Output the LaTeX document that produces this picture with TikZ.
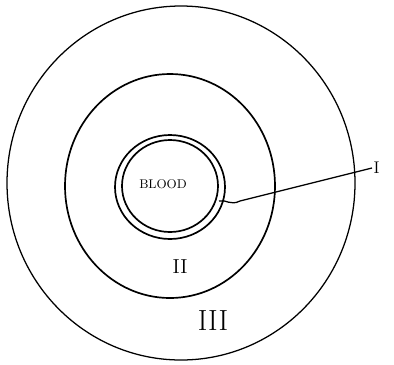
\documentclass[tikz,border=0pt]{standalone}
\usepackage{tikz}
\usetikzlibrary{positioning,calc}

\begin{document}
\begin{tikzpicture}[
    x=0.025cm, y=-0.025cm,
    every node/.style={font=\small},
    ring/.style={draw, line width=1.2pt},
    numlabel/.style={inner sep=1pt, font=\Large},
]
  \useasboundingbox (0,0) rectangle (394,364);

  % layers (outer to inner)
  \draw[line width=0.9pt] (181,183) ellipse [x radius=174, y radius=177];
  \draw[ring] (170,186) ellipse [x radius=105, y radius=112];
  \draw[ring] (170,187) ellipse [x radius=55, y radius=52];
  \draw[ring] (170,186) ellipse [x radius=48, y radius=46];

  % labels
  \node (blood) at (163,184) {BLOOD};
  \node[numlabel] (lblII) at (180,267) {II};
  \node[numlabel, font=\huge] (lblIII) at (213,321) {III};
  \node[numlabel, font=\large, anchor=west] (lblI) at (372,168) {I};

  % pointer to the thin layer
  \coordinate (wall) at (219,201);
  \draw[line width=0.9pt] (lblI.west) -- (240,201)
      .. controls (230,206) and (226,199) .. (wall);
\end{tikzpicture}
\end{document}
